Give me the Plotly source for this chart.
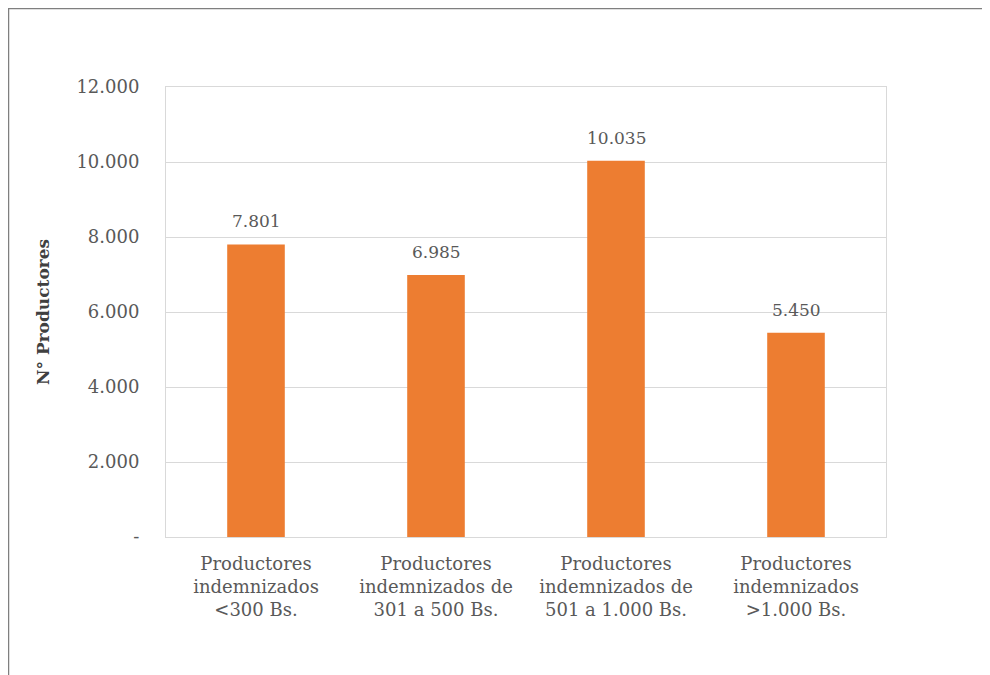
import plotly.graph_objects as go

categories = [
    "Productores<br>indemnizados<br>&lt;300 Bs.",
    "Productores<br>indemnizados de<br>301 a 500 Bs.",
    "Productores<br>indemnizados de<br>501 a 1.000 Bs.",
    "Productores<br>indemnizados<br>&gt;1.000 Bs.",
]
values = [7801, 6985, 10035, 5450]
value_labels = ["7.801", "6.985", "10.035", "5.450"]
y_tickvals = [0, 2000, 4000, 6000, 8000, 10000, 12000]
y_ticktext = ["-", "2.000", "4.000", "6.000", "8.000", "10.000", "12.000"]

FONT = "DejaVu Serif"
GRAY = "#595959"

W, H = 982, 667
ML, MR, MT, MB = 158, 104, 79, 138
PW, PH = W - ML - MR, H - MT - MB

fig = go.Figure()
fig.add_trace(go.Bar(
    x=categories, y=values,
    marker=dict(color="#ED7D31", line=dict(width=0)),
    width=0.32,
    cliponaxis=False,
))

for c, v, t in zip(categories, values, value_labels):
    fig.add_annotation(x=c, y=v, text=t, showarrow=False, yanchor="bottom",
                       yshift=11, font=dict(family=FONT, size=17, color=GRAY))

fig.update_layout(
    width=W, height=H,
    margin=dict(l=ML, r=MR, t=MT, b=MB),
    paper_bgcolor="white", plot_bgcolor="white",
    showlegend=False,
    font=dict(family=FONT, color=GRAY, size=16),
    xaxis=dict(
        showline=True, linecolor="#D9D9D9", mirror=True, linewidth=1,
        tickfont=dict(family=FONT, size=18, color=GRAY),
        ticks="outside", ticklen=10, tickcolor="rgba(0,0,0,0)",
    ),
    yaxis=dict(
        range=[0, 12000],
        tickvals=y_tickvals, ticktext=y_ticktext,
        showgrid=True, gridcolor="#D9D9D9", gridwidth=1,
        showline=True, linecolor="#D9D9D9", mirror=True, linewidth=1,
        zeroline=False,
        tickfont=dict(family=FONT, size=18, color=GRAY),
        ticks="outside", ticklen=22, tickcolor="rgba(0,0,0,0)",
        title=dict(text="<b>N° Productores</b>", font=dict(family=FONT, size=17, color="#404040"), standoff=22),
    ),
    shapes=[
        dict(type="line", xref="paper", yref="paper",
             x0=-ML / PW, x1=(W - ML) / PW + 0.05,
             y0=1 + (MT - 0.5) / PH, y1=1 + (MT - 0.5) / PH,
             line=dict(color="#7F7F7F", width=1.5)),
        dict(type="line", xref="paper", yref="paper",
             x0=-(ML - 0.5) / PW, x1=-(ML - 0.5) / PW,
             y0=1 + MT / PH, y1=-MB / PH - 0.05,
             line=dict(color="#7F7F7F", width=1.5)),
    ],
)

fig.write_html("out.html")
